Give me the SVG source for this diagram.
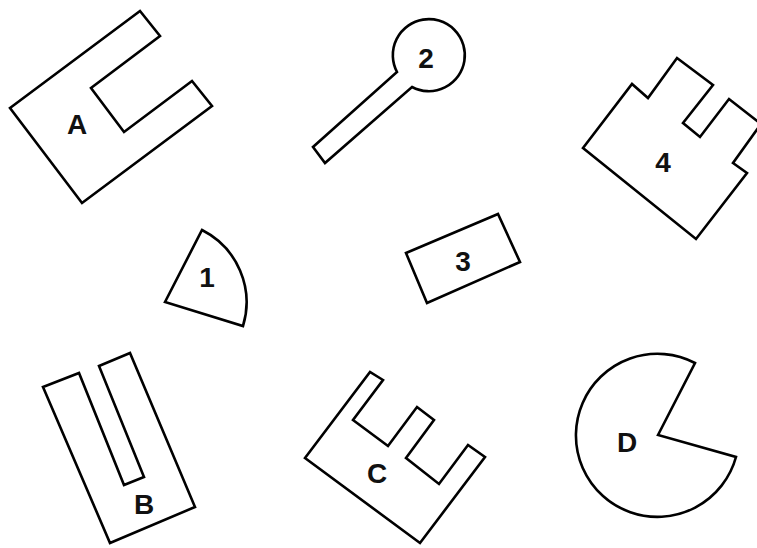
<svg xmlns="http://www.w3.org/2000/svg" width="757" height="548" viewBox="0 0 757 548">
<style>
.s{fill:none;stroke:#000;stroke-width:2.6;stroke-linejoin:miter}
.t{font-family:"Liberation Sans",Arial,sans-serif;font-weight:bold;font-size:28px;text-anchor:middle;fill:#111}
</style>
<rect width="757" height="548" fill="#fff"/>
<g id="shapeA">
<path class="s" d="M10,108 L140,11 L160,36 L91,88 L124,132 L192,81 L212,106 L82,203 Z"/>
<text class="t" x="77" y="134">A</text>
</g>
<g id="shape2">
<path class="s" d="M397,72 A36,36 0 1 1 412,87 L325,163 L313,147 Z"/>
<text class="t" x="426" y="68">2</text>
</g>
<g id="shape4">
<path class="s" d="M583,148 L632,84 L648,98 L677,58 L713,85 L683,123 L700,137 L729,99 L761,124 L733,163 L747,173 L696,239 Z"/>
<text class="t" x="663" y="172">4</text>
</g>
<g id="shape1">
<path class="s" d="M165,302 L202,230 A81,81 0 0 1 243,326 Z"/>
<text class="t" x="207" y="287">1</text>
</g>
<g id="shape3">
<path class="s" d="M406,253 L498,214 L520,262 L427,303 Z"/>
<text class="t" x="463" y="271">3</text>
</g>
<g id="shapeB">
<path class="s" d="M43,387 L79,373 L124,485 L144,477 L99,366 L130,353 L195,507 L110,543 Z"/>
<text class="t" x="144" y="514">B</text>
</g>
<g id="shapeC">
<path class="s" d="M305,458 L370,372 L383,380 L353,420 L388,446 L417,407 L434,420 L406,458 L439,484 L468,445 L485,457 L420,543 Z"/>
<text class="t" x="377" y="483">C</text>
</g>
<g id="shapeD">
<path class="s" d="M658,435 L695,363 A81.5,81.5 0 1 0 736,457 Z"/>
<text class="t" x="627" y="452">D</text>
</g>
<g id="connectors"></g>
</svg>
